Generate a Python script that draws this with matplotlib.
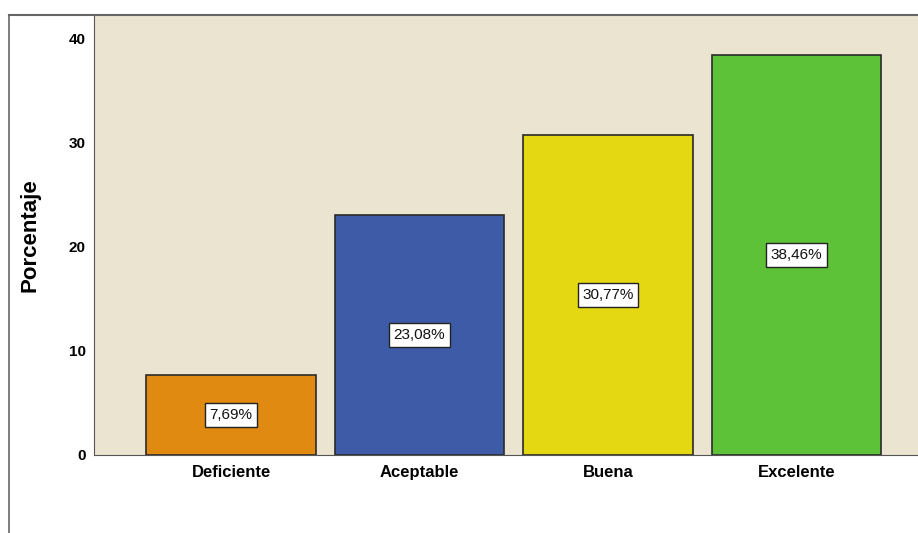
import matplotlib.pyplot as plt
from matplotlib.lines import Line2D

categorias = ['Deficiente', 'Aceptable', 'Buena', 'Excelente']
porcentajes = [7.69, 23.08, 30.77, 38.46]
etiquetas = ['7,69%', '23,08%', '30,77%', '38,46%']
colores = ['#E08A12', '#3E5BA8', '#E3D812', '#5DC238']

plt.rcParams['font.family'] = ['Liberation Sans', 'DejaVu Sans']

fig = plt.figure(figsize=(9.18, 5.33), dpi=100)
ax = fig.add_axes([94 / 918, 78 / 533, 1 - 94 / 918, 440 / 533])
ax.set_facecolor('#EBE4D0')

x = range(len(categorias))
ax.bar(x, porcentajes, width=0.9, color=colores, edgecolor='#2a2a2a', linewidth=1.2, zorder=2)

# etiquetas de porcentaje en el centro de cada barra
for i, (v, t) in enumerate(zip(porcentajes, etiquetas)):
    ax.text(i, v / 2, t, ha='center', va='center', fontsize=11, color='#111111', zorder=3,
            bbox=dict(boxstyle='square,pad=0.3', facecolor='white', edgecolor='#222222', linewidth=1))

ax.set_xlim(-0.727, 3.645)
ax.set_ylim(0, 42.3)
ax.set_yticks([0, 10, 20, 30, 40])
ax.set_xticks(list(x))
ax.set_xticklabels(categorias, fontsize=12, fontweight='bold')
ax.tick_params(axis='y', length=0, pad=6, labelsize=11)
ax.tick_params(axis='x', length=0, pad=7)
for lab in ax.get_yticklabels():
    lab.set_fontweight('bold')
ax.set_ylabel('Porcentaje', fontsize=16, fontweight='bold')
ax.yaxis.set_label_coords(-54 / 824, 0.5)

for s in ['top', 'right']:
    ax.spines[s].set_visible(False)
ax.spines['left'].set_color('#555555')
ax.spines['bottom'].set_color('#555555')

# marco exterior
fig.add_artist(Line2D([9 / 918, 1], [518 / 533, 518 / 533], color='#666666', lw=1.5))
fig.add_artist(Line2D([9 / 918, 9 / 918], [0, 518 / 533], color='#666666', lw=1.2))

fig.savefig('out.png', dpi=100)
